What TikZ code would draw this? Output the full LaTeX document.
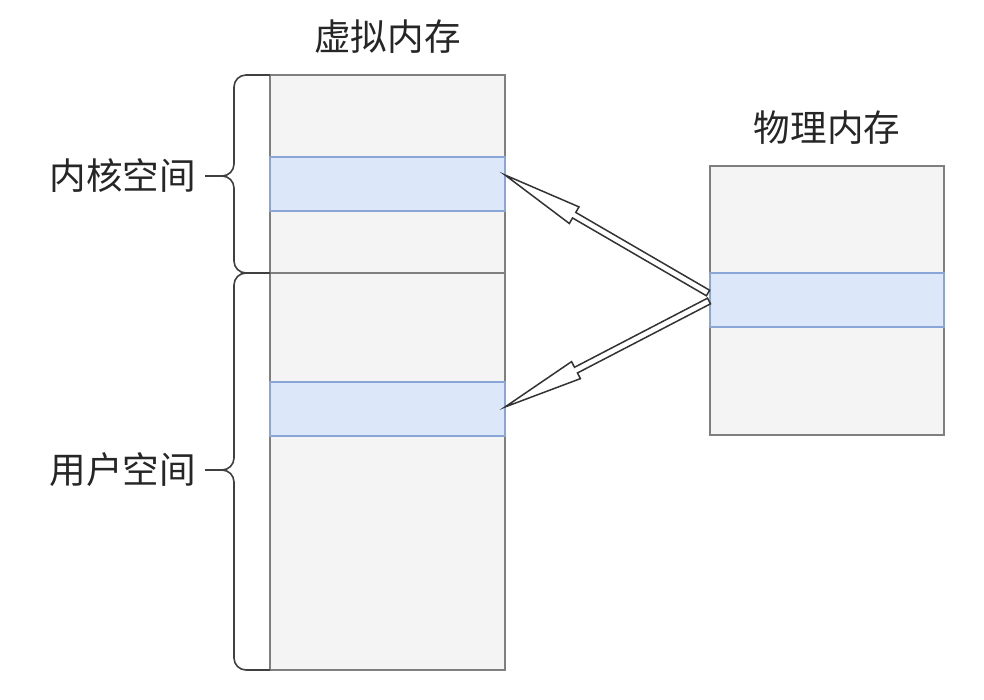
\documentclass[tikz,border=0pt]{standalone}
\usepackage{fontspec}
\newfontfamily\cjk{Noto Sans CJK SC}
\usetikzlibrary{positioning, calc}

\definecolor{memfill}{HTML}{F4F4F4}
\definecolor{memdraw}{HTML}{7F7F7F}
\definecolor{pagefill}{HTML}{DDE7FA}
\definecolor{pagedraw}{HTML}{8AA6D6}

% hollow double-line arrow from #1 to tip #2
\newcommand{\flexarrow}[2]{%
	\coordinate (h) at ($(#2)!40pt!(#1)$);
	\draw[flexarr] ($(#1)!1.6pt!90:(#2)$) -- ($(h)!1.6pt!90:(#2)$) -- ($(h)!4.8pt!90:(#2)$) -- (#2)
		-- ($(h)!4.8pt!-90:(#2)$) -- ($(h)!1.6pt!-90:(#2)$) -- ($(#1)!1.6pt!-90:(#2)$) -- cycle;}

\begin{document}
\begin{tikzpicture}[x=0.5pt, y=-0.5pt,
		region/.style={rectangle, draw=memdraw, fill=memfill, line width=0.7pt, inner sep=0pt, outer sep=0pt, minimum width=117.5pt},
		page/.style={rectangle, draw=pagedraw, fill=pagefill, line width=0.7pt, inner sep=0pt, outer sep=0pt, minimum width=117.5pt, minimum height=27pt},
		lbl/.style={font=\cjk\fontsize{18.3}{21}\selectfont, text=black!85},
		brace/.style={draw=black!75, line width=0.8pt, rounded corners=6pt},
		flexarr/.style={draw=black!80, fill=white, line width=0.75pt, line join=miter},
		]
		\useasboundingbox (0,0) rectangle (984,700);

		% Virtual memory
		\node[region, minimum height=99pt, anchor=north west] (kern) at (270,75) {};
		\node[region, minimum height=198.5pt, below=0pt of kern] (user) {};
		\node[page, below=41pt of kern.north] (kpage) {};
		\node[page, below=54.5pt of user.north] (upage) {};
		\node[lbl, above=7pt of kern] (vtitle) {虚拟内存};

		% Physical memory
		\node[region, minimum width=117pt, minimum height=134.5pt, anchor=north west] (pmem) at (710,166) {};
		\node[page, minimum width=117pt, below=53.5pt of pmem.north] (ppage) {};
		\node[lbl, above=7pt of pmem] (ptitle) {物理内存};

		% Braces
		\coordinate (ktip) at (205,176);
		\coordinate (utip) at (205,470);
		\draw[brace] (kern.north west) -- (234,75) -- (234,176) -- (ktip);
		\draw[brace] (ktip) -- (234,176) -- (234,273) -- (kern.south west);
		\draw[brace] (user.north west) -- (234,273) -- (234,470) -- (utip);
		\draw[brace] (utip) -- (234,470) -- (234,670) -- (user.south west);
		\node[lbl, left=1pt of ktip] (klabel) {内核空间};
		\node[lbl, left=1pt of utip] (ulabel) {用户空间};

		% Arrows
		\coordinate (src1) at ($(ppage.west)+(-2,-7)$);
		\coordinate (src2) at ($(ppage.west)+(-1,1)$);
		\coordinate (dst1) at ($(kpage.east)+(0,-9)$);
		\coordinate (dst2) at ($(upage.east)+(0,-2)$);
		\flexarrow{src1}{dst1}
		\flexarrow{src2}{dst2}
	\end{tikzpicture}
\end{document}
